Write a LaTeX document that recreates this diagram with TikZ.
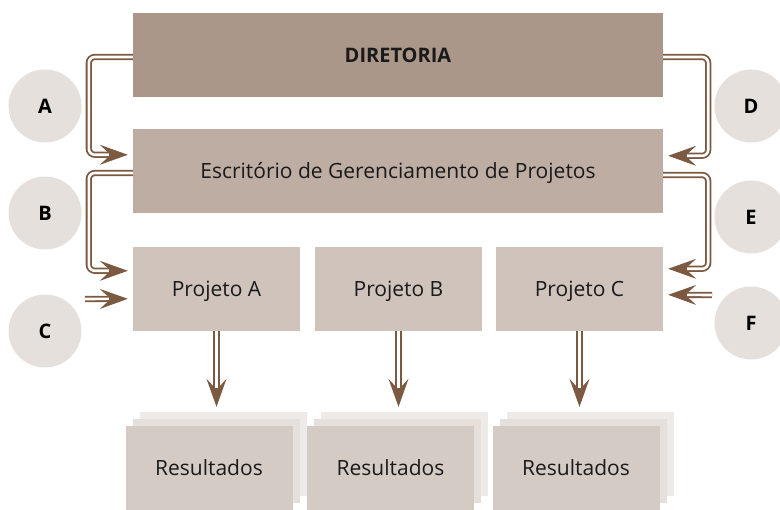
\documentclass[tikz,border=0pt]{standalone}
\usepackage{fontspec}
\setmainfont{Open Sans}
\usepackage{tikz}
\usetikzlibrary{arrows.meta, positioning, calc}
\definecolor{dirfill}{RGB}{170, 151, 138}
\definecolor{escfill}{RGB}{189, 173, 163}
\definecolor{projfill}{RGB}{207, 195, 188}
\definecolor{resfill}{RGB}{213, 203, 197}
\definecolor{resmid}{RGB}{229, 224, 220}
\definecolor{resback}{RGB}{238, 234, 231}
\definecolor{circfill}{RGB}{229, 224, 220}
\definecolor{arrowbrown}{RGB}{123, 90, 65}
\definecolor{txt}{RGB}{26, 26, 26}

\begin{document}
\begin{tikzpicture}[
  x=1pt, y=1pt,
  wbox/.style={fill=#1, draw=none, inner sep=0pt, text=txt, text height=15pt, text depth=0pt, font=\fontsize{21}{24}\selectfont},
  bigbox/.style={wbox=#1, minimum width=530pt, minimum height=84pt},
  projbox/.style={wbox=projfill, minimum width=167pt, minimum height=84pt},
  resbox/.style={wbox=#1, minimum width=167pt, minimum height=84pt},
  tag/.style={circle, fill=circfill, minimum size=73pt, inner sep=0pt, text=black, font=\fontsize{20}{22}\selectfont\bfseries},
  conn/.style={draw=arrowbrown, line width=1pt, rounded corners=6pt,
    -{Stealth[length=28pt, width=20pt, inset=11pt, fill=arrowbrown]},
    preaction={draw=arrowbrown, line width=6.2pt, shorten >=16pt, -},
    postaction={draw=white, line width=2.6pt, shorten >=19pt, -}}
]
  \useasboundingbox (0,0) rectangle (780,-510);

  % main levels
  \node[bigbox=dirfill, font=\fontsize{20}{22}\selectfont\bfseries] (dir) at (398,-55) {DIRETORIA};
  \node[bigbox=escfill] (esc) at (398,-171) {Escrit\'orio de Gerenciamento de Projetos};
  \node[projbox] (pa) at (216.5,-289) {Projeto A};
  \node[projbox] (pb) at (398.5,-289) {Projeto B};
  \node[projbox] (pc) at (579.5,-289) {Projeto C};

  % stacked results
  \node[resbox=resback] (rabk) at (223,-454) {};
  \node[resbox=resmid] (ramd) at (216,-461) {};
  \node[resbox=resfill] (ra) at (209,-468) {Resultados};
  \node[resbox=resback] (rbbk) at (404.5,-454) {};
  \node[resbox=resmid] (rbmd) at (397.5,-461) {};
  \node[resbox=resfill] (rb) at (390.5,-468) {Resultados};
  \node[resbox=resback] (rcbk) at (590,-454) {};
  \node[resbox=resmid] (rcmd) at (583,-461) {};
  \node[resbox=resfill] (rc) at (576,-468) {Resultados};

  % side tags
  \node[tag] (ca) at (45,-106) {A};
  \node[tag] (cb) at (45,-213) {B};
  \node[tag] (cc) at (45,-331) {C};
  \node[tag] (cd) at (751,-106) {D};
  \node[tag] (ce) at (751,-217) {E};
  \node[tag] (cf) at (751,-323) {F};

  \coordinate (cin) at (85,-299);
  \coordinate (fin) at (712,-295);

  % connectors
  \draw[conn] ([yshift=-2pt]dir.west) -- ++(-44,0) |- ([xshift=-5pt,yshift=-26pt]esc.north west);
  \draw[conn] ([yshift=-2pt]dir.east) -- ++(45,0) |- ([xshift=5pt,yshift=-27pt]esc.north east);
  \draw[conn] ([yshift=-2pt]esc.west) -- ++(-44,0) |- ([xshift=-5pt,yshift=-24pt]pa.north west);
  \draw[conn] ([yshift=-4pt]esc.east) -- ++(45,0) |- ([xshift=5pt,yshift=-22pt]pc.north east);
  \draw[conn] (cin) -- ([xshift=-5pt,yshift=-52pt]pa.north west);
  \draw[conn] (fin) -- ([xshift=5pt,yshift=-48pt]pc.north east);
  \draw[conn] (pa.south) -- ([yshift=5pt]pa.south |- rabk.north);
  \draw[conn] (pb.south) -- ([yshift=5pt]pb.south |- rbbk.north);
  \draw[conn] (pc.south) -- ([yshift=5pt]pc.south |- rcbk.north);
\end{tikzpicture}
\end{document}
